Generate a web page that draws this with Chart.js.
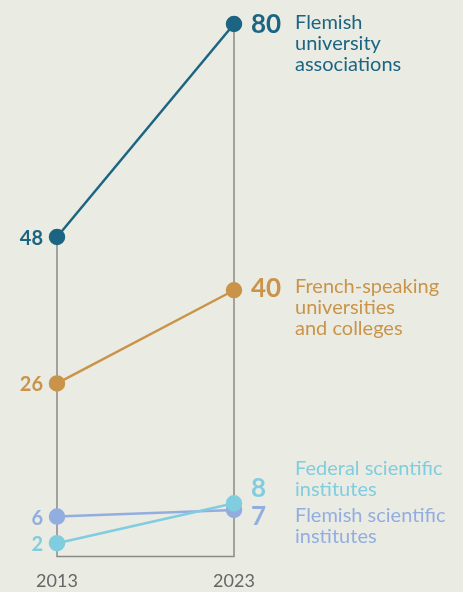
<!DOCTYPE html>
<html>
<head>
<meta charset="utf-8">
<script src="https://cdn.jsdelivr.net/npm/chart.js@4/dist/chart.umd.min.js"></script>
<style>
  html, body { margin: 0; padding: 0; background: #eaebe2; }
  #wrap { width: 463px; height: 592px; }
</style>
</head>
<body>
<div id="wrap"><canvas id="slope-canvas" width="463" height="592"></canvas></div>
<script>
var years = [2013, 2023];
var seriesNames = [
    ['Flemish', 'university', 'associations'],
    ['French-speaking', 'universities', 'and colleges'],
    ['Federal scientific', 'institutes'],
    ['Flemish scientific', 'institutes']
];
var flemishUni = [48, 80];
var frenchUni = [26, 40];
var federalInst = [2, 8];
var flemishInst = [6, 7];
var colors = ['#1b6582', '#c9944a', '#80cde0', '#92ade0'];

var seriesValues = [flemishUni, frenchUni, federalInst, flemishInst];

function pts(vals) {
    return vals.map(function (v, i) { return { x: years[i], y: v }; });
}

// frame: from top value down to zero at each year, joined along the bottom
var frame = [
    { x: years[0], y: flemishUni[0] },
    { x: years[0], y: 0 },
    { x: years[1], y: 0 },
    { x: years[1], y: flemishUni[1] }
];

var datasets = [{
    data: frame,
    borderColor: '#8a8a86',
    borderWidth: 1.5,
    pointRadius: 0,
    clip: false,
    order: 10
}];
// draw the light ones first so the dark lines stay on top
[3, 2, 1, 0].forEach(function (k) {
    datasets.push({
        data: pts(seriesValues[k]),
        borderColor: colors[k],
        backgroundColor: colors[k],
        borderWidth: 2.5,
        pointRadius: 7,
        pointHoverRadius: 7,
        clip: false,
        order: k
    });
});

// baseline offsets (px from the point) for the right-hand number and first name line
var numShift = [9, 7, -6.5, 15];
var nameShift = [5, 3, -28.5, 12];

var labelPlugin = {
    id: 'slopeLabels',
    afterDatasetsDraw: function (chart) {
        var ctx = chart.ctx;
        var xs = chart.scales.x, ys = chart.scales.y;
        var font = 'Lato, sans-serif';
        ctx.save();
        ctx.textBaseline = 'alphabetic';

        // left values
        seriesValues.forEach(function (vals, k) {
            ctx.fillStyle = colors[k];
            ctx.font = 'bold 20px ' + font;
            ctx.textAlign = 'right';
            ctx.fillText(vals[0], xs.getPixelForValue(years[0]) - 14, ys.getPixelForValue(vals[0]) + 8);
        });

        // right values and names
        seriesValues.forEach(function (vals, k) {
            var x = xs.getPixelForValue(years[1]);
            var y = ys.getPixelForValue(vals[1]);
            ctx.fillStyle = colors[k];
            ctx.textAlign = 'left';
            ctx.font = 'bold 26px ' + font;
            ctx.fillText(vals[1], x + 17, y + numShift[k]);
            ctx.font = '20px ' + font;
            seriesNames[k].forEach(function (line, i) {
                ctx.fillText(line, x + 61, y + nameShift[k] + i * 21);
            });
        });

        // year labels
        ctx.fillStyle = '#666666';
        ctx.font = '18px ' + font;
        ctx.textAlign = 'center';
        years.forEach(function (yr) {
            ctx.fillText(yr, xs.getPixelForValue(yr), 587);
        });
        ctx.restore();
    }
};

var ctx = document.getElementById('slope-canvas').getContext('2d');
window.slopeChart = new Chart(ctx, {
    type: 'line',
    data: { datasets: datasets },
    options: {
        responsive: false,
        animation: false,
        layout: { padding: { left: 57, right: 229, top: 24, bottom: 35.5 } },
        scales: {
            x: { type: 'linear', min: 2013, max: 2023, display: false },
            y: { min: 0, max: 80, display: false }
        },
        plugins: { legend: { display: false }, tooltip: { enabled: false } }
    },
    plugins: [labelPlugin]
});
</script>
</body>
</html>
